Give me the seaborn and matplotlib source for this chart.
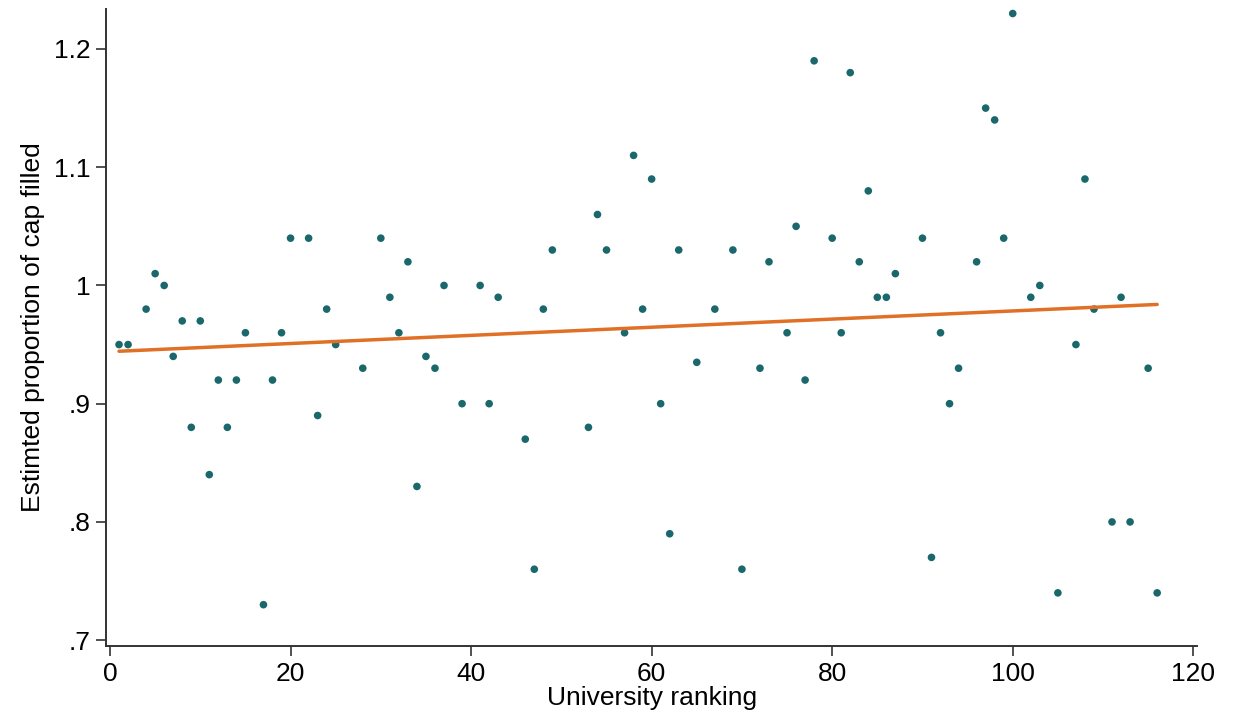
import matplotlib
matplotlib.use("Agg")
import matplotlib.pyplot as plt
import seaborn as sns
import pandas as pd

# university ranking vs estimated proportion of cap filled
ranking = [1, 2, 4, 5, 6, 7, 8, 9, 10, 11, 12, 13, 14, 15, 17, 18, 19, 20, 22, 23,
           24, 25, 28, 30, 31, 32, 33, 34, 35, 36, 37, 39, 41, 42, 43, 46, 47, 48, 49, 53,
           54, 55, 57, 58, 59, 60, 61, 62, 63, 65, 67, 69, 70, 72, 73, 75, 76, 77, 78, 80,
           81, 82, 83, 84, 85, 86, 87, 90, 91, 92, 93, 94, 96, 97, 98, 99, 100, 102, 103, 105,
           107, 108, 109, 111, 112, 113, 115, 116]
cap_filled = [.95, .95, .98, 1.01, 1.00, .94, .97, .88, .97, .84, .92, .88, .92, .96, .73, .92, .96, 1.04, 1.04, .89,
              .98, .95, .93, 1.04, .99, .96, 1.02, .83, .94, .93, 1.00, .90, 1.00, .90, .99, .87, .76, .98, 1.03, .88,
              1.06, 1.03, .96, 1.11, .98, 1.09, .90, .79, 1.03, .935, .98, 1.03, .76, .93, 1.02, .96, 1.05, .92, 1.19, 1.04,
              .96, 1.18, 1.02, 1.08, .99, .99, 1.01, 1.04, .77, .96, .90, .93, 1.02, 1.15, 1.14, 1.04, 1.23, .99, 1.00, .74,
              .95, 1.09, .98, .80, .99, .80, .93, .74]

yticks = [.7, .8, .9, 1.0, 1.1, 1.2]
ytick_labels = [".7", ".8", ".9", "1", "1.1", "1.2"]
xticks = [0, 20, 40, 60, 80, 100, 120]

df = pd.DataFrame({"ranking": ranking, "cap_filled": cap_filled})

sns.set_style("ticks")
plt.rcParams['font.family'] = ['Liberation Sans', 'DejaVu Sans']

fig = plt.figure(figsize=(12.33, 7.22), dpi=100)
ax = fig.add_axes([0.086, 0.105, 0.885, 0.8825])

sns.regplot(data=df, x="ranking", y="cap_filled", ci=None, ax=ax,
            scatter_kws={"s": 30, "color": "#1a686c", "edgecolor": "none", "alpha": 1},
            line_kws={"color": "#e07026", "lw": 2.5})

ax.set_xlim(-0.44, 120.44)
ax.set_ylim(0.6949, 1.2338)
ax.set_xticks(xticks)
ax.set_yticks(yticks)
ax.set_yticklabels(ytick_labels)
ax.tick_params(axis="both", labelsize=19, length=7.4, width=1.2, color="#333333", pad=4, labelcolor="black")
for side in ["top", "right"]:
    ax.spines[side].set_visible(False)
for side in ["left", "bottom"]:
    ax.spines[side].set_color("#333333")
    ax.spines[side].set_linewidth(1.4)

ax.set_xlabel("University ranking", fontsize=19, labelpad=0, color="black")
ax.set_ylabel("Estimted proportion of cap filled", fontsize=19, labelpad=6, color="black")

fig.savefig("out.png", dpi=100)
